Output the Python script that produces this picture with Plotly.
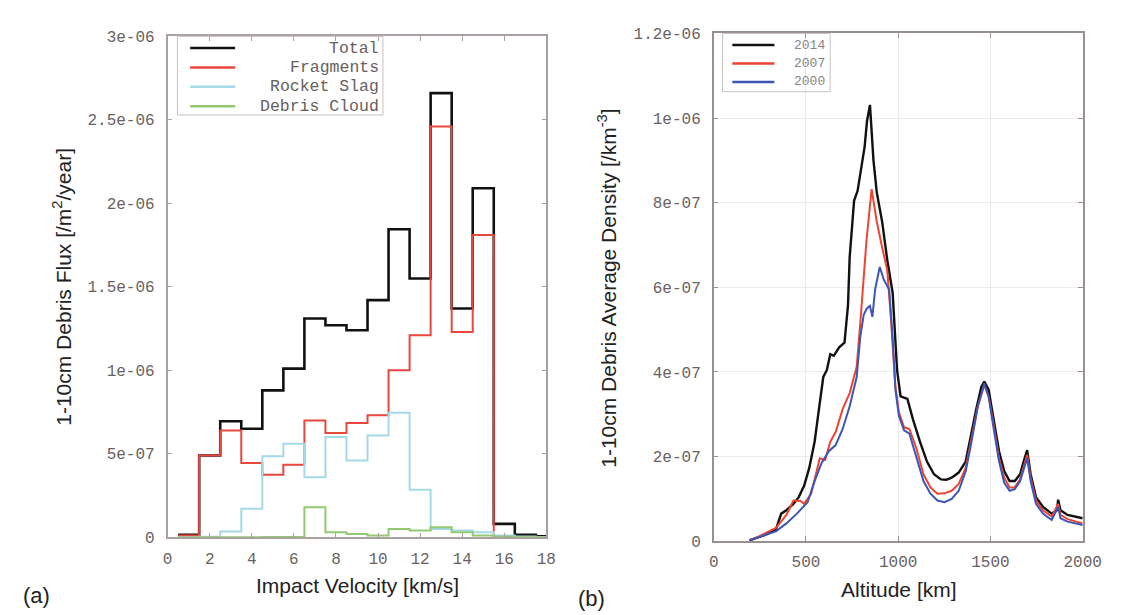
import plotly.graph_objects as go

# ---------------- data: panel (a) ----------------
velocity_bins = [1, 2, 3, 4, 5, 6, 7, 8, 9, 10, 11, 12, 13, 14, 15, 16, 17, 18]  # bin centres [km/s]
bin_width = 1.0
flux_total = [1.5e-8, 4.9e-7, 6.95e-7, 6.5e-7, 8.8e-7, 1.01e-6, 1.31e-6, 1.27e-6, 1.24e-6,
              1.42e-6, 1.845e-6, 1.55e-6, 2.66e-6, 1.37e-6, 2.09e-6, 8.0e-8, 1.5e-8, 5e-9]
flux_fragments = [1.0e-8, 4.9e-7, 6.4e-7, 4.45e-7, 3.75e-7, 4.35e-7, 7.0e-7, 6.25e-7, 6.85e-7,
                  7.3e-7, 1.0e-6, 1.21e-6, 2.46e-6, 1.23e-6, 1.81e-6, 3e-9, 2e-9, 1e-9]
flux_rocket_slag = [0.0, 3e-9, 3.5e-8, 1.7e-7, 4.85e-7, 5.6e-7, 3.6e-7, 6.0e-7, 4.6e-7,
                    6.1e-7, 7.45e-7, 2.85e-7, 5e-8, 4e-8, 3e-8, 1e-8, 5e-9, 0.0]
flux_debris_cloud = [0.0, 0.0, 0.0, 0.0, 1e-9, 2e-9, 1.8e-7, 3e-8, 2e-8,
                     1e-8, 5e-8, 4e-8, 6e-8, 3e-8, 1e-8, 5e-9, 0.0, 0.0]
series_a = ["Total", "Fragments", "Rocket Slag", "Debris Cloud"]

# ---------------- data: panel (b) ----------------
alt_2014 = [194, 240, 280, 337, 366, 394, 432, 461, 490, 518, 547, 575, 594, 613, 632, 651, 680, 709,
            728, 737, 761, 780, 799, 818, 831, 847, 866, 884, 913, 941, 970, 994, 1013, 1032, 1050,
            1080, 1118, 1156, 1194, 1232, 1261, 1290, 1328, 1366, 1394, 1423, 1451, 1467, 1490, 1518,
            1547, 1575, 1604, 1632, 1661, 1680, 1699, 1718, 1747, 1785, 1832, 1861, 1867, 1880, 1918, 2000]
dens_2014 = [0.02, 0.08, 0.15, 0.27, 0.65, 0.73, 0.88, 1.04, 1.31, 1.73, 2.35, 3.27, 3.88, 4.04, 4.42,
             4.38, 4.58, 4.69, 5.58, 6.71, 8.05, 8.28, 8.86, 9.32, 9.93, 10.31, 9.0, 8.24, 7.55, 6.64,
             5.87, 4.04, 3.42, 3.38, 3.36, 2.88, 2.35, 1.88, 1.58, 1.46, 1.45, 1.5, 1.62, 1.88, 2.5,
             3.12, 3.65, 3.77, 3.58, 2.88, 2.12, 1.65, 1.42, 1.42, 1.58, 1.88, 2.15, 1.58, 1.04, 0.81,
             0.65, 0.73, 0.98, 0.73, 0.62, 0.54]
alt_2007 = [194, 240, 280, 337, 394, 432, 470, 490, 528, 556, 575, 604, 632, 661, 699, 737, 775, 794,
            810, 828, 856, 870, 884, 913, 941, 960, 985, 1004, 1032, 1061, 1099, 1137, 1175, 1213,
            1251, 1290, 1328, 1366, 1394, 1432, 1467, 1490, 1518, 1547, 1575, 1604, 1632, 1661, 1699,
            1718, 1747, 1785, 1832, 1867, 1880, 1918, 2000]
dens_2007 = [0.02, 0.1, 0.19, 0.31, 0.62, 0.96, 0.95, 0.88, 1.12, 1.58, 1.96, 1.92, 2.35, 2.58, 3.12,
             3.5, 4.12, 5.12, 6.0, 7.1, 8.32, 7.9, 7.55, 6.94, 6.4, 5.3, 3.65, 3.04, 2.69, 2.65, 2.19,
             1.58, 1.27, 1.12, 1.13, 1.19, 1.35, 1.73, 2.35, 3.19, 3.69, 3.42, 2.73, 1.96, 1.5, 1.27,
             1.27, 1.46, 2.04, 1.5, 0.96, 0.73, 0.58, 0.88, 0.62, 0.52, 0.42]
alt_2000 = [194, 240, 280, 337, 394, 451, 509, 547, 585, 623, 661, 699, 737, 775, 794, 813, 830, 847,
            860, 875, 900, 922, 951, 970, 985, 1004, 1032, 1061, 1099, 1137, 1175, 1213, 1251, 1290,
            1328, 1366, 1394, 1432, 1467, 1490, 1518, 1547, 1575, 1604, 1632, 1661, 1699, 1718, 1747,
            1785, 1832, 1867, 1880, 1918, 2000]
dens_2000 = [0.02, 0.08, 0.15, 0.23, 0.42, 0.65, 0.92, 1.42, 1.85, 2.12, 2.27, 2.65, 3.19, 3.88, 4.81,
             5.35, 5.5, 5.56, 5.3, 5.95, 6.48, 6.18, 5.95, 4.8, 3.58, 2.96, 2.62, 2.54, 1.96, 1.42,
             1.12, 0.96, 0.92, 1.0, 1.19, 1.65, 2.27, 3.19, 3.73, 3.42, 2.65, 1.88, 1.38, 1.19, 1.23,
             1.42, 1.96, 1.42, 0.88, 0.65, 0.5, 0.81, 0.54, 0.46, 0.38]
dens_scale = 1e-7
series_b = ["2014", "2007", "2000"]

ticks_a_x = [0, 2, 4, 6, 8, 10, 12, 14, 16, 18]
ticks_a_y = [0, 5e-7, 1e-6, 1.5e-6, 2e-6, 2.5e-6, 3e-6]
ticks_a_y_text = ["0", "5e-07", "1e-06", "1.5e-06", "2e-06", "2.5e-06", "3e-06"]
ticks_b_x = [0, 500, 1000, 1500, 2000]
ticks_b_y = [0, 2e-7, 4e-7, 6e-7, 8e-7, 1e-6, 1.2e-6]
ticks_b_y_text = ["0", "2e-07", "4e-07", "6e-07", "8e-07", "1e-06", "1.2e-06"]

# ---------------- styling ----------------
W, H = 1124, 615
def fx(px): return px / W
def fy(py): return 1 - py / H

colors_a = ["#111111", "#e8473d", "#a6d9e8", "#93c972"]
widths_a = [2.6, 2.0, 2.0, 2.0]
colors_b = ["#111111", "#ee4433", "#3d56b5"]
widths_b = [2.4, 2.0, 2.0]

MONO = "Liberation Mono, Courier New, monospace"
SANS = "Liberation Sans, Arial, sans-serif"
TICKCOL = "#6a6262"
BOXCOL = "#aaa0a0"

fig = go.Figure()

edges = [c - bin_width / 2 for c in velocity_bins] + [velocity_bins[-1] + bin_width / 2]
for name, vals, col, w in zip(series_a, [flux_total, flux_fragments, flux_rocket_slag, flux_debris_cloud],
                              colors_a, widths_a):
    fig.add_trace(go.Scatter(x=edges, y=list(vals) + [vals[-1]], mode="lines", line_shape="hv",
                             line=dict(color=col, width=w), name=name, showlegend=False,
                             xaxis="x", yaxis="y"))

for name, alts, dens, col, w in zip(series_b, [alt_2014, alt_2007, alt_2000],
                                    [dens_2014, dens_2007, dens_2000], colors_b, widths_b):
    fig.add_trace(go.Scatter(x=alts, y=[d * dens_scale for d in dens], mode="lines",
                             line=dict(color=col, width=w), name=name, showlegend=False,
                             xaxis="x2", yaxis="y2"))

axis_common = dict(showline=True, mirror="ticks", linewidth=1.5,
                   ticks="inside", ticklen=5, zeroline=False,
                   tickfont=dict(family=MONO, size=16, color=TICKCOL))

fig.update_layout(
    width=W, height=H, margin=dict(l=0, r=0, t=0, b=0),
    paper_bgcolor="white", plot_bgcolor="white", showlegend=False,
    xaxis=dict(domain=[fx(158), fx(545)], range=[0, 18], tickvals=ticks_a_x, showgrid=False,
               anchor="y", linecolor=BOXCOL, tickcolor=BOXCOL, ticklabelstandoff=6, **axis_common),
    yaxis=dict(domain=[fy(538), fy(22)], range=[0, 3e-6], tickvals=ticks_a_y, ticktext=ticks_a_y_text,
               showgrid=False, anchor="x", linecolor=BOXCOL, tickcolor=BOXCOL, ticklabelstandoff=8,
               **axis_common),
    xaxis2=dict(domain=[fx(716), fx(1093)], range=[0, 2000], tickvals=ticks_b_x, showgrid=True,
                gridcolor="#ebebeb", anchor="y2", linecolor="#9a9090", tickcolor="#9a9090",
                ticklabelstandoff=5, **axis_common),
    yaxis2=dict(domain=[fy(542), fy(19)], range=[0, 1.2e-6], tickvals=ticks_b_y, ticktext=ticks_b_y_text,
                showgrid=True, gridcolor="#ebebeb", anchor="x2", linecolor="#9a9090", tickcolor="#9a9090",
                ticklabelstandoff=8, **axis_common),
)

shapes = []
annotations = []

# legend (a)
shapes.append(dict(type="rect", xref="paper", yref="paper", x0=fx(168), x1=fx(378), y0=fy(103), y1=fy(22),
                   line=dict(color="#c8c0c0", width=1)))
for i, (name, col) in enumerate(zip(series_a, colors_a)):
    ry = 34 + i * 20
    shapes.append(dict(type="line", xref="paper", yref="paper", x0=fx(181), x1=fx(227), y0=fy(ry), y1=fy(ry),
                       line=dict(color=col, width=2.5)))
    annotations.append(dict(text=name, xref="paper", yref="paper", x=fx(376), y=fy(ry), xanchor="right",
                            yanchor="middle", showarrow=False,
                            font=dict(family=MONO, size=16.5, color="#666060")))

# legend (b)
shapes.append(dict(type="rect", xref="paper", yref="paper", x0=fx(725), x1=fx(835), y0=fy(79), y1=fy(19),
                   line=dict(color="#c8c0c0", width=1)))
for i, (name, col) in enumerate(zip(series_b, colors_b)):
    ry = 31 + i * 19
    shapes.append(dict(type="line", xref="paper", yref="paper", x0=fx(735), x1=fx(778), y0=fy(ry), y1=fy(ry),
                       line=dict(color=col, width=2.5)))
    annotations.append(dict(text=name, xref="paper", yref="paper", x=fx(832), y=fy(ry), xanchor="right",
                            yanchor="middle", showarrow=False,
                            font=dict(family=MONO, size=13, color="#8a8484")))

# axis titles and panel labels
def label(text, px, py, size=21, angle=0):
    return dict(text=text, xref="paper", yref="paper", x=fx(px), y=fy(py), xanchor="center",
                yanchor="middle", textangle=angle, showarrow=False,
                font=dict(family=SANS, size=size, color="#222"))

annotations += [
    label("1-10cm Debris Flux [/m<sup>2</sup>/year]", 50, 280, angle=-90),
    label("Impact Velocity [km/s]", 352, 588),
    label("1-10cm Debris Average Density [/km<sup>-3</sup>]", 607, 282, angle=-90),
    label("Altitude [km]", 905, 592),
    label("(a)", 24, 598, size=22),
    label("(b)", 591, 601, size=22),
]

fig.update_layout(shapes=shapes, annotations=annotations)
fig.write_html("out.html")
